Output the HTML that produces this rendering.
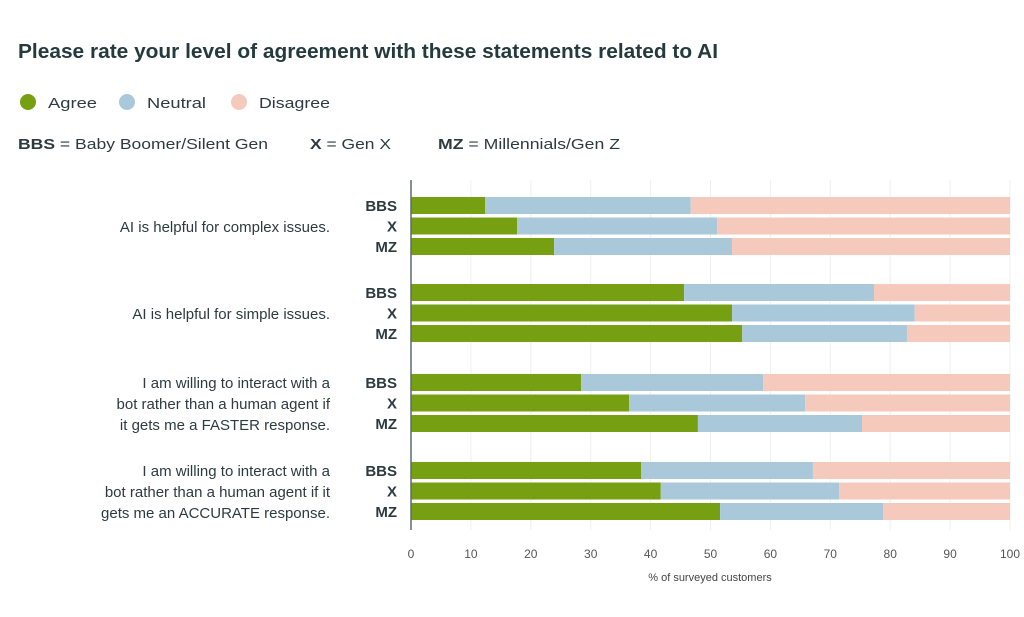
<!DOCTYPE html>
<html><head><meta charset="utf-8"><style>
body{margin:0;background:#fff;width:1024px;height:612px;overflow:hidden;font-family:"Liberation Sans",sans-serif;}
</style></head><body>
<svg id="c" width="1024" height="612" xmlns="http://www.w3.org/2000/svg" font-family="Liberation Sans, sans-serif">
<text x="18" y="58" font-size="20" font-weight="bold" fill="#243a3c" textLength="700" lengthAdjust="spacingAndGlyphs">Please rate your level of agreement with these statements related to AI</text>
<g>
<circle cx="28" cy="102" r="8" fill="#76a012"/>
<text x="48" y="108" font-size="15" fill="#2d3b3f" textLength="49" lengthAdjust="spacingAndGlyphs">Agree</text>
<circle cx="127" cy="102" r="8" fill="#a9c9da"/>
<text x="147" y="108" font-size="15" fill="#2d3b3f" textLength="59" lengthAdjust="spacingAndGlyphs">Neutral</text>
<circle cx="239" cy="102" r="8" fill="#f5c9bb"/>
<text x="259" y="108" font-size="15" fill="#2d3b3f" textLength="71" lengthAdjust="spacingAndGlyphs">Disagree</text>
</g>
<g font-size="15" fill="#2d3b3f">
<text x="18" y="149" textLength="250" lengthAdjust="spacingAndGlyphs"><tspan font-weight="bold">BBS</tspan> = Baby Boomer/Silent Gen</text>
<text x="310" y="149" textLength="81" lengthAdjust="spacingAndGlyphs"><tspan font-weight="bold">X</tspan> = Gen X</text>
<text x="438" y="149" textLength="182" lengthAdjust="spacingAndGlyphs"><tspan font-weight="bold">MZ</tspan> = Millennials/Gen Z</text>
</g>
<g id="plot"></g>
</svg>
<script>
const statements=[["AI is helpful for complex issues."],["AI is helpful for simple issues."],["I am willing to interact with a","bot rather than a human agent if","it gets me a FASTER response."],["I am willing to interact with a","bot rather than a human agent if it","gets me an ACCURATE response."]];
const generations=["BBS","X","MZ"];
const agree=[[12.4,17.7,23.9],[45.6,53.6,55.3],[28.4,36.4,47.9],[38.4,41.7,51.6]];
const neutral=[[34.3,33.4,29.7],[31.7,30.5,27.5],[30.4,29.4,27.4],[28.7,29.8,27.2]];
const ticks=[0,10,20,30,40,50,60,70,80,90,100];
const NS="http://www.w3.org/2000/svg";
const g=document.getElementById('plot');
const x0=411,x1=1010;
const xs=v=>x0+(x1-x0)*v/100;
const groupTop=[197,284,374,462];
function mk(t,a,p){const e=document.createElementNS(NS,t);for(const k in a)e.setAttribute(k,a[k]);(p||g).appendChild(e);return e;}
ticks.forEach(t=>{
 const l=mk('line',{x1:xs(t),x2:xs(t),y1:180,y2:530,stroke:'#eef0f0','stroke-width':1});
 
 
 const tx=mk('text',{x:xs(t),y:558,'text-anchor':'middle','font-size':12,fill:'#555'});
 tx.textContent=t;
 
 
});
const xt=mk('text',{x:710,y:581,'text-anchor':'middle','font-size':11,fill:'#444'});
xt.textContent='% of surveyed customers';


statements.forEach((s,i)=>{
 const top=groupTop[i];
 const n=s.length;const cy=top+30;
 s.forEach((line,j)=>{
  const t=mk('text',{x:330,y:cy+5+(j-(n-1)/2)*21,'text-anchor':'end','font-size':15,fill:'#2d3b3f'});
  t.textContent=line;
  
  
 });
 generations.forEach((gen,k)=>{
  const y=top+k*20.5,h=17;
  const a=agree[i][k],nv=neutral[i][k];
  const gl=mk('text',{x:397,y:y+14,'text-anchor':'end','font-size':15,'font-weight':'bold',fill:'#2d3b3f'});
  gl.textContent=gen;
  
  
  const r1=mk('rect',{x:xs(0),y:y,width:xs(a)-xs(0),height:h,fill:'#76a012'});
  
  
  const r2=mk('rect',{x:xs(a),y:y,width:xs(a+nv)-xs(a),height:h,fill:'#a9c9da'});
  
  
  const r3=mk('rect',{x:xs(a+nv),y:y,width:xs(100)-xs(a+nv),height:h,fill:'#f5c9bb'});
  
  
 });
});
const ax=mk('line',{x1:x0,x2:x0,y1:180,y2:530,stroke:'#5b6b70','stroke-width':1.5});


</script>
</body></html>
